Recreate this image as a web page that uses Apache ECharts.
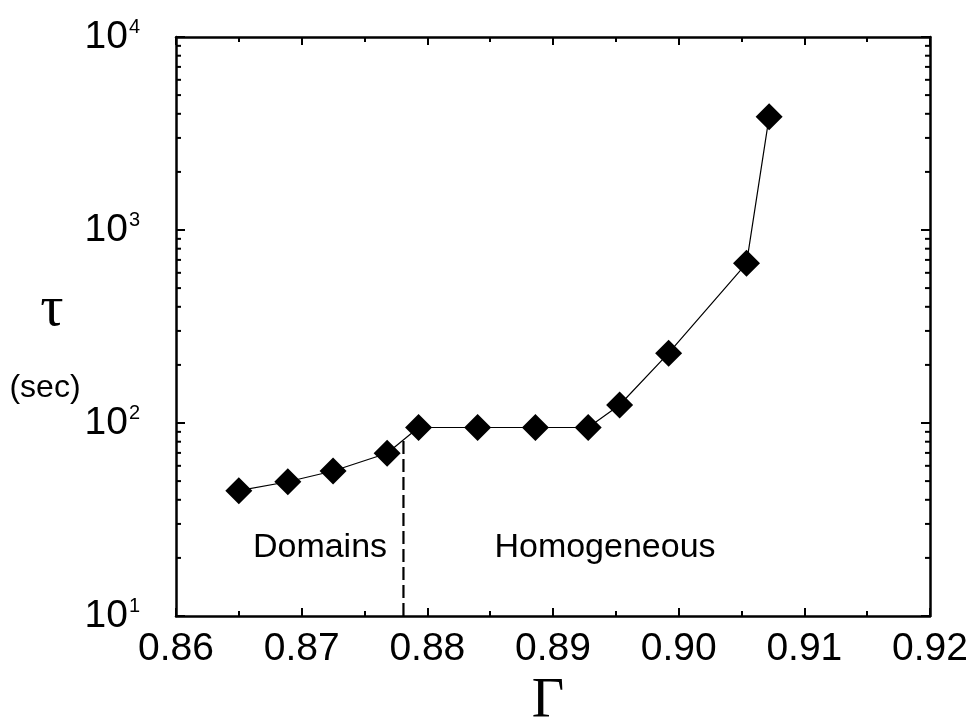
<!DOCTYPE html>
<html>
<head>
<meta charset="utf-8">
<script src="https://cdn.jsdelivr.net/npm/echarts@6/dist/echarts.min.js"></script>
<style>
html,body{margin:0;padding:0;background:#fff;}
#c{width:973px;height:723px;}
</style>
</head>
<body>
<div id="c"></div>
<script>
// Data
const gammaValues = [0.8650, 0.8689, 0.8725, 0.8768, 0.8793, 0.8840, 0.8886, 0.8928, 0.8953, 0.8992, 0.9054, 0.9072];
const tauValues   = [44.6, 49.6, 56.4, 69.7, 94.8, 94.8, 94.8, 94.8, 124, 230, 672, 3865];
const boundaryGamma = 0.8781;
const boundaryTau = [10, 81];
const xTicks = [0.86, 0.87, 0.88, 0.89, 0.90, 0.91, 0.92];
const yTicks = [10, 100, 1000, 10000];
const yMinorTicks = [20, 30, 40, 50, 60, 70, 80, 90, 200, 300, 400, 500, 600, 700, 800, 900, 2000, 3000, 4000, 5000, 6000, 7000, 8000, 9000];
const regionLabels = ['Domains', 'Homogeneous'];

const chart = echarts.init(document.getElementById('c'), null, {renderer: 'canvas'});
const sans = 'Liberation Sans, Arial, Helvetica, sans-serif';
const serif = 'Liberation Serif, Times New Roman, DejaVu Serif, serif';

const pts = gammaValues.map((g, i) => [g, tauValues[i]]);

const xCommon = {
  type: 'value', min: xTicks[0], max: xTicks[xTicks.length - 1], interval: 0.01,
  axisLine: {show: true, lineStyle: {color: '#000', width: 2.5}},
  axisTick: {show: true, inside: true, length: 8, lineStyle: {color: '#000', width: 2}},
  minorTick: {show: true, splitNumber: 2, length: 5, lineStyle: {color: '#000', width: 2}},
  splitLine: {show: false}
};
const yCommon = {
  type: 'log', logBase: 10, min: yTicks[0], max: yTicks[yTicks.length - 1],
  axisLine: {show: true, lineStyle: {color: '#000', width: 2.5}},
  axisTick: {show: true, inside: true, length: 9, lineStyle: {color: '#000', width: 2}},
  minorTick: {show: false},
  splitLine: {show: false}
};

chart.setOption({
  backgroundColor: '#fff',
  animation: false,
  grid: {left: 176, right: 43, top: 37, bottom: 107, containLabel: false},
  xAxis: [
    Object.assign({}, xCommon, {
      position: 'bottom',
      axisLabel: {show: true, margin: 14, color: '#000', fontSize: 39, fontFamily: sans,
        formatter: v => v.toFixed(2)}
    }),
    Object.assign({}, xCommon, {position: 'top', axisLabel: {show: false}})
  ],
  yAxis: [
    Object.assign({}, yCommon, {
      position: 'left',
      axisLabel: {show: true, margin: 36, color: '#000',
        formatter: v => '{b|10}{s|' + Math.round(Math.log10(v)) + '}',
        rich: {
          b: {fontSize: 39, lineHeight: 40, fontFamily: sans, color: '#000'},
          s: {fontSize: 20, lineHeight: 16, fontFamily: sans, color: '#000', verticalAlign: 'top', padding: [0, 0, 4, 1]}
        }}
    }),
    Object.assign({}, yCommon, {position: 'right', axisLabel: {show: false}})
  ],
  series: [
    {
      type: 'line', xAxisIndex: 0, yAxisIndex: 0,
      data: pts,
      symbol: 'diamond', symbolSize: 27,
      itemStyle: {color: '#000'},
      lineStyle: {color: '#000', width: 1.2},
      z: 5
    },
    {
      type: 'line', xAxisIndex: 0, yAxisIndex: 0,
      data: [[boundaryGamma, boundaryTau[0]], [boundaryGamma, boundaryTau[1]]],
      symbol: 'none',
      lineStyle: {color: '#000', width: 2.2, type: [13, 5]},
      z: 3
    },
    {
      type: 'custom', xAxisIndex: 0, yAxisIndex: 0,
      data: yMinorTicks.map(v => [xTicks[0], v]),
      silent: true, clip: false,
      renderItem: function (params, api) {
        const p = api.coord([api.value(0), api.value(1)]);
        const cs = params.coordSys;
        const xl = cs.x, xr = cs.x + cs.width;
        return {
          type: 'group',
          children: [
            {type: 'line', shape: {x1: xl, y1: p[1], x2: xl + 5, y2: p[1]}, style: {stroke: '#000', lineWidth: 2}},
            {type: 'line', shape: {x1: xr, y1: p[1], x2: xr - 5, y2: p[1]}, style: {stroke: '#000', lineWidth: 2}}
          ]
        };
      },
      z: 2
    }
  ],
  graphic: [
    {type: 'text', x: 52, y: 310, style: {text: 'τ', font: '58px ' + serif, fill: '#000', align: 'center', verticalAlign: 'middle'}},
    {type: 'text', x: 45, y: 388, style: {text: '(sec)', font: '32px ' + sans, fill: '#000', align: 'center', verticalAlign: 'middle'}},
    {type: 'text', x: 548, y: 702, style: {text: 'Γ', font: '56px ' + serif, fill: '#000', align: 'center', verticalAlign: 'middle'}},
    {type: 'text', x: 320, y: 548, style: {text: regionLabels[0], font: '34px ' + sans, fill: '#000', align: 'center', verticalAlign: 'middle'}},
    {type: 'text', x: 605, y: 548, style: {text: regionLabels[1], font: '34px ' + sans, fill: '#000', align: 'center', verticalAlign: 'middle'}}
  ]
});
</script>
</body>
</html>
